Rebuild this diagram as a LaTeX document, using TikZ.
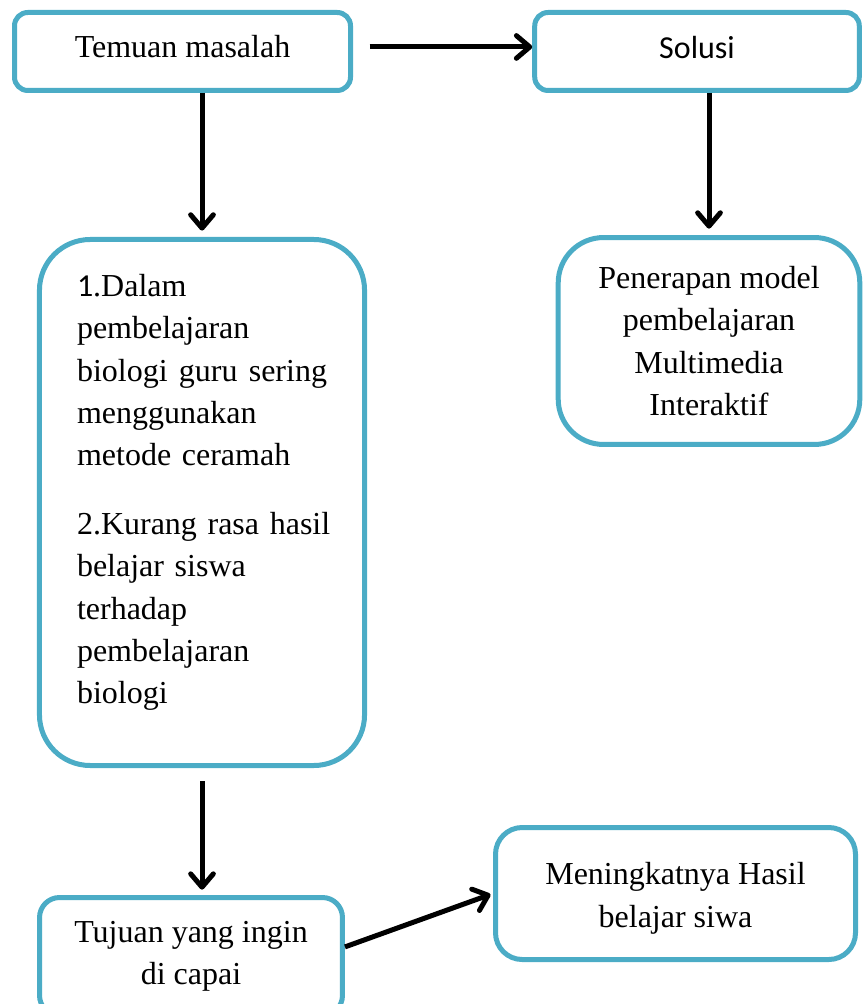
\documentclass[tikz,border=0pt]{standalone}
\usepackage{fontspec}
\setmainfont{Liberation Serif}
\newfontfamily\calibri{Carlito}
\definecolor{BoxBlue}{RGB}{75,172,198}
\usetikzlibrary{arrows.meta,positioning}

\begin{document}
\begin{tikzpicture}[x=0.375pt,y=-0.375pt,
  box/.style={draw=BoxBlue,line width=1.875pt,fill=white,
              align=center,inner sep=0pt,
              font=\fontsize{12}{15.86}\selectfont},
  arr/.style={-{Straight Barb[length=5pt,width=8.5pt,round]},black,
              line width=1.875pt}]
  \useasboundingbox (0,0) rectangle (863,1004);
  \clip (0,0) rectangle (863,1004);
  \node[box,rounded corners=5pt,minimum width=126pt,minimum height=29.25pt,
        text depth=4.1pt] (TM) at (182.5,51.5) {Temuan masalah};
  \node[box,rounded corners=5pt,minimum width=121.7pt,minimum height=29.25pt,
        font=\fontsize{12}{15.86}\calibri,text height=8.4pt,text depth=3.5pt]
        (SO) at (697,51.5) {Solusi};
  \node[box,rounded corners=19pt,minimum width=121.9pt,minimum height=197.25pt,
        text width=93.75pt,align=left] (MA) at (202,502.5)
        {{\calibri 1}.Dalam\\
         pembelajaran\\
         biologi\hfill guru\hfill sering\\
         menggunakan\\
         metode ceramah\\[10pt]
         \mbox{2.Kurang rasa hasil}\\
         belajar siswa\\
         terhadap\\
         pembelajaran\\
         biologi\rule[-10.1pt]{0pt}{0pt}};
  \node[box,rounded corners=17pt,minimum width=113.1pt,minimum height=77.6pt]
        (PE) at (709,341) {Penerapan model\\pembelajaran\\Multimedia\\Interaktif};
  \node[box,rounded corners=7.5pt,minimum width=113.6pt,minimum height=44.25pt]
        (TU) at (191,956.5) {Tujuan yang ingin\\di capai};
  \node[box,rounded corners=10pt,minimum width=135pt,minimum height=49.5pt]
        (HA) at (675.5,893.5) {\rule{0pt}{12pt}Meningkatnya Hasil\\belajar siwa};
  \draw[arr,shorten <=6.2pt]([yshift=1.7pt]TM.east)--([yshift=1.7pt]SO.west);
  \draw[arr,shorten >=2.4pt](TM.south -| MA.north)--(MA.north);
  \draw[arr,shorten >=2.4pt](SO.south -| PE.north)--(PE.north);
  \draw[arr,shorten <=5pt,shorten >=2pt](MA.south)--(MA.south |- TU.north);
  \draw[arr,shorten >=1pt]([yshift=3.6pt]TU.east)--(HA.west);
\end{tikzpicture}
\end{document}
